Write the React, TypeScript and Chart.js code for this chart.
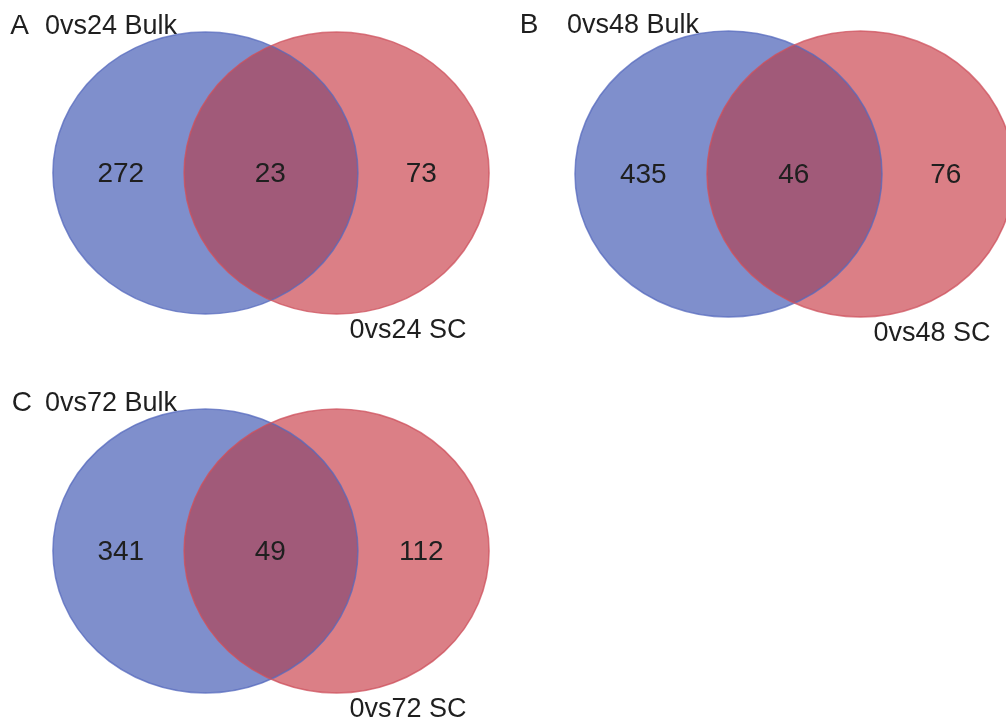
import React, { useEffect, useRef } from 'react';
import { Chart, registerables } from 'chart.js';

Chart.register(...registerables);

// Venn counts for each comparison
const panelLetters = ['A', 'B', 'C'];
const bulkNames = ['0vs24 Bulk', '0vs48 Bulk', '0vs72 Bulk'];
const scNames = ['0vs24 SC', '0vs48 SC', '0vs72 SC'];
const bulkOnlyCounts = [272, 435, 341];
const sharedCounts = [23, 46, 49];
const scOnlyCounts = [73, 76, 112];

// Set geometry in data units (each set is a unit circle; scales stretch it)
const SET_OFFSET = 0.43;
const SET_RADIUS = 1;
const REGION_X = [-0.985, -0.005, 0.985];
const REGION_Y = 0.01;

const BLUE_FILL = '#7f8fcc';
const RED_FILL = '#db7f86';
const OVERLAP_FILL = '#a15a79';
const BLUE_STROKE = 'rgba(85, 105, 190, 0.75)';
const RED_STROKE = 'rgba(205, 80, 92, 0.75)';
const FONT = '"Liberation Sans", Arial, Helvetica, sans-serif';

// Canvas placement and scale mapping for each panel
const PANELS = [
  { left: 0, top: 0, width: 503, height: 362, midX: 271, midY: 173, rx: 152.5, ry: 141, letterX: -1.71 },
  { left: 503, top: 0, width: 503, height: 362, midX: 794.5, midY: 174, rx: 153.5, ry: 143, letterX: -1.79 },
  { left: 0, top: 362, width: 503, height: 361, midX: 271, midY: 551, rx: 152.5, ry: 142, letterX: -1.7 },
];

type TextPoint = { x: number; y: number; text: string; align: CanvasTextAlign; size: number };

const vennPlugin = {
  id: 'venn',
  beforeDatasetsDraw(chart: any) {
    const { ctx, scales } = chart;
    const xs = scales.x;
    const ys = scales.y;
    const ellipse = (c: number) => {
      const px = xs.getPixelForValue(c);
      const py = ys.getPixelForValue(0);
      const rx = Math.abs(xs.getPixelForValue(c + SET_RADIUS) - px);
      const ry = Math.abs(ys.getPixelForValue(SET_RADIUS) - py);
      ctx.beginPath();
      ctx.ellipse(px, py, rx, ry, 0, 0, Math.PI * 2);
    };
    ctx.save();
    // left set (bulk)
    ellipse(-SET_OFFSET);
    ctx.fillStyle = BLUE_FILL;
    ctx.fill();
    // right set (single cell)
    ellipse(SET_OFFSET);
    ctx.fillStyle = RED_FILL;
    ctx.fill();
    // overlap
    ctx.save();
    ellipse(-SET_OFFSET);
    ctx.clip();
    ellipse(SET_OFFSET);
    ctx.fillStyle = OVERLAP_FILL;
    ctx.fill();
    ctx.restore();
    // outlines
    ctx.lineWidth = 1.5;
    ellipse(-SET_OFFSET);
    ctx.strokeStyle = BLUE_STROKE;
    ctx.stroke();
    ellipse(SET_OFFSET);
    ctx.strokeStyle = RED_STROKE;
    ctx.stroke();
    ctx.restore();
  },
  afterDatasetsDraw(chart: any) {
    const { ctx } = chart;
    chart.data.datasets.forEach((ds: any, i: number) => {
      const meta = chart.getDatasetMeta(i);
      meta.data.forEach((el: any, j: number) => {
        const p: TextPoint = ds.data[j];
        ctx.save();
        ctx.font = `${p.size}px ${FONT}`;
        ctx.fillStyle = '#1f1f1f';
        ctx.textAlign = p.align;
        ctx.textBaseline = 'alphabetic';
        ctx.fillText(p.text, el.x, el.y + p.size * 0.36);
        ctx.restore();
      });
    });
  },
};

function VennPanel({ index }: { index: number }) {
  const ref = useRef<HTMLCanvasElement | null>(null);
  const panel = PANELS[index];

  useEffect(() => {
    if (!ref.current) return;
    const counts: TextPoint[] = [
      { x: REGION_X[0], y: REGION_Y, text: String(bulkOnlyCounts[index]), align: 'center', size: 28 },
      { x: REGION_X[1], y: REGION_Y, text: String(sharedCounts[index]), align: 'center', size: 28 },
      { x: REGION_X[2], y: REGION_Y, text: String(scOnlyCounts[index]), align: 'center', size: 28 },
    ];
    const names: TextPoint[] = [
      { x: panel.letterX, y: 1.06, text: panelLetters[index], align: 'left', size: 28 },
      { x: -1.482, y: 1.055, text: bulkNames[index], align: 'left', size: 27 },
      { x: 0.515, y: -1.1, text: scNames[index], align: 'left', size: 27 },
    ];
    const chart = new Chart(ref.current, {
      type: 'scatter',
      data: {
        datasets: [
          { label: 'counts', data: counts as any, pointRadius: 0, pointHoverRadius: 0 },
          { label: 'names', data: names as any, pointRadius: 0, pointHoverRadius: 0 },
        ],
      },
      options: {
        responsive: false,
        animation: false,
        devicePixelRatio: 1,
        events: [],
        layout: { padding: 0 },
        scales: {
          x: {
            type: 'linear',
            display: false,
            min: (panel.left - panel.midX) / panel.rx,
            max: (panel.left + panel.width - panel.midX) / panel.rx,
          },
          y: {
            type: 'linear',
            display: false,
            min: (panel.midY - (panel.top + panel.height)) / panel.ry,
            max: (panel.midY - panel.top) / panel.ry,
          },
        },
        plugins: {
          legend: { display: false },
          tooltip: { enabled: false },
        },
      },
      plugins: [vennPlugin],
    });
    return () => chart.destroy();
  }, [index]);

  return (
    <div style={{ position: 'absolute', left: panel.left, top: panel.top, width: panel.width, height: panel.height }}>
      <canvas ref={ref} width={panel.width} height={panel.height} style={{ display: 'block' }} />
    </div>
  );
}

export default function App() {
  return (
    <div style={{ position: 'absolute', left: 0, top: 0, width: 1006, height: 723, background: '#fff', overflow: 'hidden' }}>
      {PANELS.map((_, i) => (
        <VennPanel key={i} index={i} />
      ))}
    </div>
  );
}
